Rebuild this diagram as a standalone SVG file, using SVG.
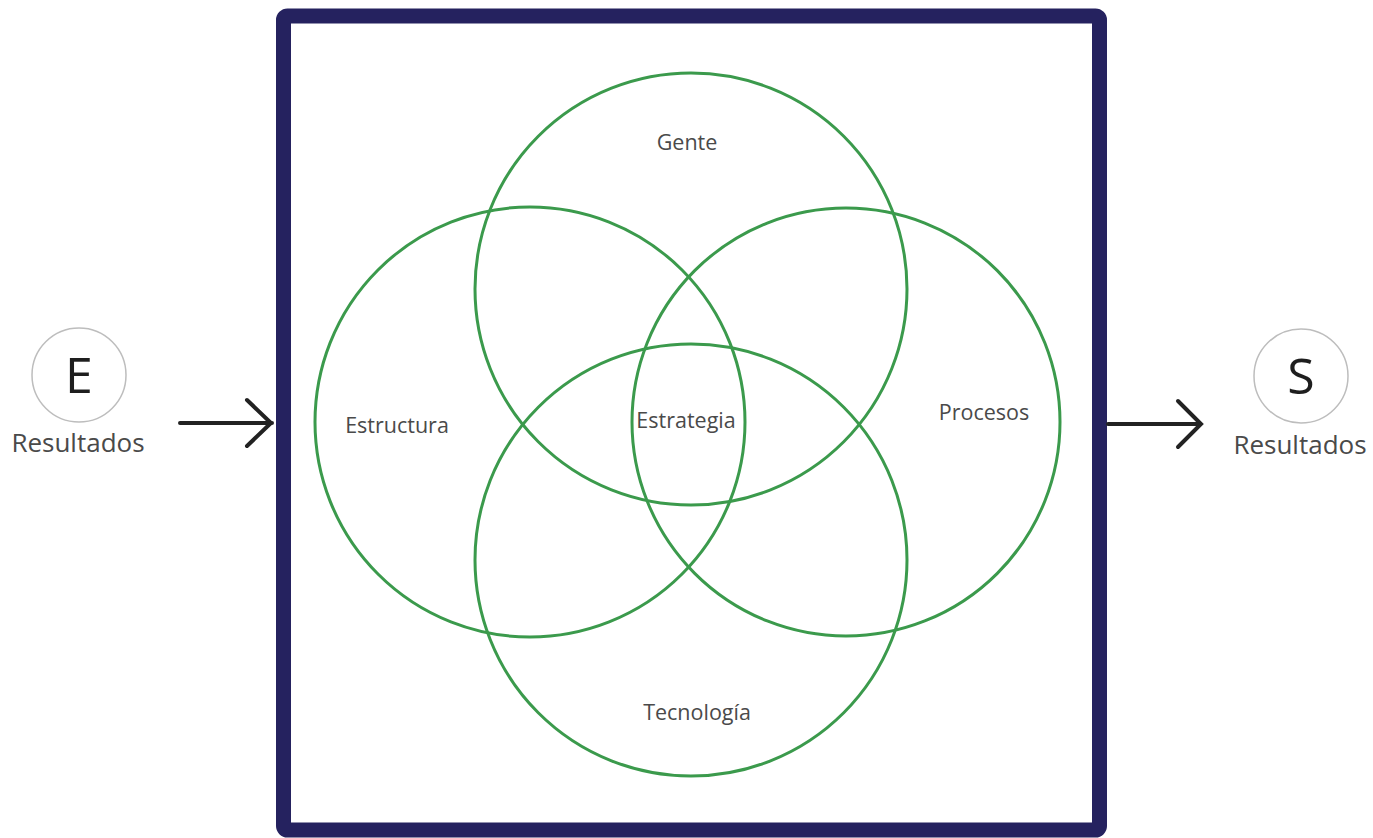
<svg xmlns="http://www.w3.org/2000/svg" width="1373" height="838" viewBox="0 0 1373 838">
<style>
.venn{fill:none;stroke:#3b9a4c;stroke-width:3}
.lbl{font-family:"Open Sans","Noto Sans",sans-serif;font-size:21.5px;fill:#4a4a4a;text-anchor:middle}
.io{fill:#fff;stroke:#bdbdbd;stroke-width:1.5}
.ioL{font-family:"Open Sans","Noto Sans",sans-serif;font-size:50px;fill:#1e1e1e;text-anchor:middle}
.res{font-family:"Open Sans","Noto Sans",sans-serif;font-size:26px;fill:#4a4a4a;text-anchor:middle}
.arr{fill:none;stroke:#222;stroke-width:4;stroke-linecap:round;stroke-linejoin:miter}
</style>
<rect width="1373" height="838" fill="#fff"/>
<g id="frame"><rect x="283.5" y="16" width="816" height="814" rx="4" fill="none" stroke="#25225f" stroke-width="15"/></g>
<g id="gente"><circle class="venn" cx="691" cy="289" r="216"/><text class="lbl" x="687" y="150">Gente</text></g>
<g id="estructura"><circle class="venn" cx="530" cy="422" r="215"/><text class="lbl" x="397" y="433">Estructura</text></g>
<g id="procesos"><circle class="venn" cx="846" cy="422" r="214"/><text class="lbl" x="984" y="420">Procesos</text></g>
<g id="tecnologia"><circle class="venn" cx="691" cy="560" r="216"/><text class="lbl" x="697" y="720">Tecnología</text></g>
<g id="estrategia"><text class="lbl" x="686" y="428">Estrategia</text></g>
<g id="entrada"><circle class="io" cx="79" cy="375" r="47"/><text class="ioL" x="79" y="393">E</text><text class="res" x="78" y="452">Resultados</text></g>
<g id="salida"><circle class="io" cx="1301" cy="376" r="47"/><text class="ioL" x="1301" y="394">S</text><text class="res" x="1300" y="454">Resultados</text></g>
<g id="connectors">
<path class="arr" d="M180 423H272M247 400L271 423L247 446"/>
<path class="arr" d="M1108 424H1200M1178 401L1201 424L1178 447"/>
</g>
</svg>
